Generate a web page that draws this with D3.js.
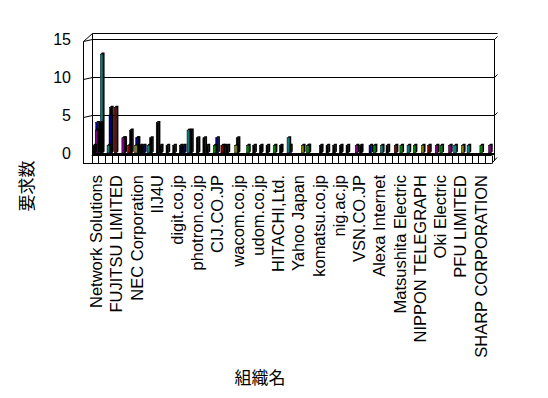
<!DOCTYPE html>
<html>
<head>
<meta charset="utf-8">
<script src="https://cdn.jsdelivr.net/npm/d3@7/dist/d3.min.js"></script>
<style>
  body { margin: 0; background: #fff; }
  text { font-family: "Liberation Sans", "Noto Sans CJK JP", sans-serif; fill: #000; }
</style>
</head>
<body>
<svg id="chart" width="548" height="398"></svg>
<script>
// organisations (only every 3rd name is printed on the axis)
const orgs = [
  "Network Solutions", "", "", "FUJITSU LIMITED", "", "", "NEC Corporation", "", "",
  "IIJ4U", "", "", "digit.co.jp", "", "", "photron.co.jp", "", "", "CIJ.CO.JP", "", "",
  "wacom.co.jp", "", "", "udom.co.jp", "", "", "HITACHI,Ltd.", "", "", "Yahoo Japan", "", "",
  "komatsu.co.jp", "", "", "nig.ac.jp", "", "", "VSN.CO.JP", "", "", "Alexa Internet", "", "",
  "Matsushita Electric", "", "", "NIPPON TELEGRAPH", "", "", "Oki Electric", "", "",
  "PFU LIMITED", "", "", "SHARP CORPORATION", "", ""
];

// series rows, front to back
const seriesColors = ["#000000", "#008000", "#008080", "#800000", "#808000", "#800080", "#000080", "#000000"];

const blackA = [1,4,0,0,0,0,0,1,0,0, 1,1,1,1,0,0,0,1,0,0, 1,0,0,0,1,1,1,0,1,0, 0,0,0,0,1,1,1,1,1,0, 1,0,0,0,1,0,0,0,0,0, 0,0,0,0,0,0,0,0,0,0];
const green  = [0,0,0,0,0,0,0,0,0,0, 0,0,0,0,0,0,0,0,1,0, 0,0,0,1,0,0,0,1,0,0, 0,0,1,0,0,0,0,0,0,0, 0,0,1,0,0,0,1,0,1,0, 0,0,1,0,0,0,0,0,1,0];
const teal   = [0,13,1,0,0,0,0,0,1,0, 0,0,0,0,3,0,0,0,0,0, 0,0,0,0,0,0,0,0,0,2, 0,0,1,0,0,0,0,0,0,0, 0,0,0,1,0,0,0,1,0,0, 0,0,0,0,1,0,1,0,0,0];
const maroon = [0,0,0,6,0,1,0,0,0,0, 0,0,0,0,0,0,0,0,0,1, 0,0,0,0,0,0,0,0,0,0, 0,0,0,0,0,0,0,0,0,0, 0,0,0,0,0,1,0,0,0,0, 1,0,0,0,0,0,0,0,0,0];
const olive  = [0,0,0,0,0,0,1,0,0,0, 0,0,0,0,0,0,0,0,0,0, 0,1,0,0,0,0,0,0,0,0, 0,1,0,0,0,0,0,0,0,0, 0,0,0,0,0,0,0,0,0,1, 0,0,0,0,0,1,0,0,0,0];
const purple = [3,0,0,0,2,0,0,0,0,0, 0,0,0,0,0,0,0,0,0,0, 0,0,0,0,0,0,0,0,0,1, 0,0,0,0,0,0,0,0,0,1, 0,0,0,0,0,0,0,0,0,0, 0,1,0,1,0,0,0,0,0,1];
const navy   = [4,0,5,0,0,0,2,1,0,0, 0,0,0,1,0,0,0,0,2,0, 0,0,0,0,0,0,0,0,0,0, 0,0,0,0,0,0,0,0,0,0, 0,1,0,0,0,0,0,0,0,0, 0,0,0,0,0,0,0,0,0,0];
const blackB = [0,0,6,0,2,3,2,0,2,4, 0,0,0,0,3,2,2,0,0,1, 0,2,0,0,0,0,0,0,0,0, 0,0,0,0,0,0,0,0,0,0, 0,0,0,0,0,0,0,0,0,0, 0,0,0,0,0,0,0,0,0,0];

const series = [blackA, green, teal, maroon, olive, purple, navy, blackB];
const yTicks = [0, 5, 10, 15];

const svg = d3.select("#chart");

const x = d3.scaleBand().domain(d3.range(orgs.length)).range([91.7, 491.7]).padding(0);
const y = d3.scaleLinear().domain([0, 15]).range([153, 39]);
const bw = x.bandwidth();

const line = (x1, y1, x2, y2, w) => svg.append("line")
  .attr("x1", x1).attr("y1", y1).attr("x2", x2).attr("y2", y2)
  .attr("stroke", "#000").attr("stroke-width", w || 1);

// walls
line(83.5, 41.5, 92.5, 33.5);
line(92.5, 33.5, 497.5, 33.5);
line(83.5, 41.5, 83.5, 163.5);
line(92.5, 33.5, 92.5, 155);
line(494.5, 39, 494.5, 161);

// gridlines
yTicks.filter(d => d > 0).forEach(d => {
  const yy = Math.round(y(d)) + 0.5;
  line(92.5, yy, 494.5, yy);
  line(494.5, yy, 497.5, yy - 3);
  line(83.5, yy + 2, 92.5, yy);
});

// bars, back rows first
const barW = 2.6, depth = 1.6;
for (let r = series.length - 1; r >= 0; r--) {
  const vals = series[r];
  const g = svg.append("g");
  vals.forEach((v, i) => {
    if (!v) return;
    const x0 = x(i) + 1 + r * 0.5;
    const yb = y(0), yt = y(v);
    g.append("path")
      .attr("d", `M${x0 + barW},${yb}L${x0 + barW + depth},${yb - depth}L${x0 + barW + depth},${yt - depth}L${x0 + depth},${yt - depth}L${x0},${yt}L${x0 + barW},${yt}Z`)
      .attr("fill", "#000");
    g.append("rect")
      .attr("x", x0).attr("y", yt)
      .attr("width", barW).attr("height", yb - yt)
      .attr("fill", seriesColors[r])
      .attr("stroke", "#000").attr("stroke-width", 0.5);
  });
}

// floor / category axis
line(92, 154, 494, 154, 2);
line(91.7, 155.5, 491.7, 155.5);
line(83, 163.5, 491.7, 163.5);
line(491.7, 163.5, 497, 157.5);
d3.range(orgs.length + 1).forEach(i => {
  const xx = Math.round(91.7 + i * bw) + 0.5;
  line(xx, 155.5, xx, 163.5);
});

// value labels
svg.append("g").selectAll("text").data(yTicks).join("text")
  .attr("x", 71).attr("y", d => y(d) + 6)
  .attr("text-anchor", "end")
  .attr("font-size", 16)
  .text(d => d);

// category labels
svg.append("g").selectAll("text").data(orgs.map((n, i) => ({ n, i })).filter(d => d.n))
  .join("text")
  .attr("transform", d => `translate(${x(d.i) + bw / 2 + 7 + d.i * 0.08},175) rotate(-90)`)
  .attr("text-anchor", "end")
  .attr("font-size", 16.5)
  .text(d => d.n);

// axis titles
svg.append("text")
  .attr("transform", "translate(33,186) rotate(-90)")
  .attr("text-anchor", "middle")
  .attr("font-size", 17)
  .attr("font-family", "Noto Sans CJK JP")
  .text("要求数");

svg.append("text")
  .attr("x", 260).attr("y", 384)
  .attr("text-anchor", "middle")
  .attr("font-size", 17)
  .attr("font-family", "Noto Sans CJK JP")
  .text("組織名");
</script>
</body>
</html>
